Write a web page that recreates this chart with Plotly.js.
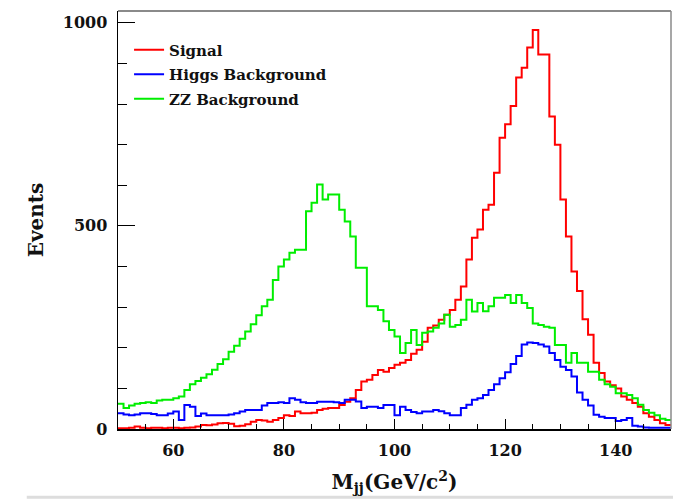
<!DOCTYPE html>
<html>
<head>
<meta charset="utf-8">
<script src="https://cdn.plot.ly/plotly-3.0.1.min.js"></script>
<style>
  html, body { margin: 0; padding: 0; background: #ffffff; }
  #chart { width: 673px; height: 499px; }
</style>
</head>
<body>
<div id="chart"></div>
<script>
// Histogram binning: 1 GeV bins from 50 to 150 GeV/c^2
const binStart = 50;
const binWidth = 1;

// Signal (events per bin, bins 50..149)
const signalCounts = [
  2, 2, 3, 6, 3, 2, 3, 3, 2, 3,
  3, 2, 3, 4, 6, 10, 9, 11, 14, 15,
  13, 7, 8, 12, 18, 22, 21, 18, 22, 27,
  34, 32, 43, 39, 39, 40, 47, 50, 52, 52,
  59, 67, 76, 96, 117, 121, 133, 145, 141, 150,
  158, 163, 170, 185, 195, 215, 249, 255, 269, 281,
  293, 318, 351, 417, 471, 491, 540, 552, 631, 717,
  750, 795, 865, 889, 939, 982, 922, 922, 769, 700,
  565, 474, 388, 340, 270, 232, 163, 138, 117, 108,
  100, 80, 72, 64, 55, 39, 30, 22, 14, 10
];

// Higgs Background
const higgsBkgCounts = [
  39, 36, 34, 36, 39, 39, 37, 34, 34, 38,
  43, 22, 59, 55, 32, 38, 34, 34, 34, 34,
  36, 39, 43, 47, 47, 47, 58, 64, 64, 66,
  64, 76, 72, 66, 64, 64, 67, 67, 67, 66,
  64, 72, 72, 68, 52, 55, 55, 52, 59, 59,
  34, 55, 47, 42, 39, 43, 43, 47, 44, 39,
  34, 34, 52, 60, 72, 76, 84, 96, 110, 125,
  140, 160, 180, 208, 213, 212, 208, 203, 187, 170,
  153, 145, 129, 90, 72, 58, 35, 30, 27, 27,
  20, 22, 27, 8, 6, 4, 3, 3, 3, 3
];

// ZZ Background
const zzBkgCounts = [
  62, 52, 58, 62, 64, 66, 64, 70, 72, 72,
  76, 80, 96, 110, 118, 126, 135, 146, 160, 172,
  190, 205, 222, 240, 258, 280, 302, 318, 367, 400,
  417, 434, 441, 441, 536, 557, 602, 565, 577, 577,
  540, 511, 474, 397, 397, 302, 302, 293, 265, 244,
  228, 187, 212, 244, 207, 237, 240, 249, 260, 281,
  252, 256, 269, 318, 289, 310, 290, 302, 323, 323,
  330, 310, 330, 310, 298, 260, 256, 252, 249, 207,
  207, 163, 187, 163, 163, 141, 141, 121, 110, 104,
  88, 88, 84, 76, 60, 47, 40, 34, 25, 22
];

const seriesNames = ["Signal", "Higgs Background", "ZZ Background"];
const seriesColors = ["#ff0000", "#0000ff", "#00ee00"];
const yTickValues = [0, 500, 1000];
const xTickValues = [60, 80, 100, 120, 140];

// Build step outlines (low edges + final upper edge)
function stepTrace(counts, name, color, group) {
  const x = counts.map((_, i) => binStart + i * binWidth);
  x.push(binStart + counts.length * binWidth);
  const y = counts.slice();
  y.push(counts[counts.length - 1]);
  return {
    type: "scatter",
    mode: "lines",
    x: x, y: y,
    name: name,
    legendgroup: group,
    line: { shape: "hv", color: color, width: 2 },
    hoverinfo: "skip"
  };
}

const data = [
  stepTrace(signalCounts, seriesNames[0], seriesColors[0], "g1"),
  stepTrace(higgsBkgCounts, seriesNames[1], seriesColors[1], "g2"),
  stepTrace(zzBkgCounts, seriesNames[2], seriesColors[2], "g3")
];

const serif = "DejaVu Serif, Liberation Serif, serif";

const layout = {
  width: 673,
  height: 499,
  margin: { l: 118, r: 2, t: 11, b: 70, pad: 0 },
  paper_bgcolor: "#ffffff",
  plot_bgcolor: "#ffffff",
  showlegend: true,
  legend: {
    x: 0.02, y: 0.946, xanchor: "left", yanchor: "top",
    bgcolor: "rgba(0,0,0,0)",
    borderwidth: 0,
    tracegroupgap: 2,
    itemwidth: 30,
    font: { family: serif, size: 15, color: "#111", weight: "bold" }
  },
  xaxis: {
    range: [50, 150],
    tickmode: "array",
    tickvals: xTickValues,
    ticktext: xTickValues.map(String),
    ticks: "inside",
    ticklen: 10,
    tickwidth: 1.2,
    tickcolor: "#000",
    minor: { dtick: 5, tick0: 0, ticks: "inside", ticklen: 5, tickwidth: 1, tickcolor: "#000" },
    showline: true, linecolor: "#000", linewidth: 1.5,
    showgrid: false, zeroline: false,
    ticklabelstandoff: 6,
    tickfont: { family: serif, size: 16, color: "#111", weight: "bold" },
    title: {
      text: "M<sub>jj</sub>(GeV/c<sup>2</sup>)",
      font: { family: serif, size: 20, color: "#111", weight: "bold" },
      standoff: 16
    },
    automargin: false
  },
  yaxis: {
    range: [0, 1029],
    tickmode: "array",
    tickvals: yTickValues,
    ticktext: yTickValues.map(String),
    ticks: "inside",
    ticklen: 17,
    tickwidth: 1.2,
    tickcolor: "#000",
    minor: { dtick: 100, tick0: 0, ticks: "inside", ticklen: 9, tickwidth: 1, tickcolor: "#000" },
    showline: true, linecolor: "#000", linewidth: 1.5,
    showgrid: false, zeroline: false,
    ticklabelstandoff: 6,
    tickfont: { family: serif, size: 16, color: "#111", weight: "bold" },
    title: {
      text: "Events",
      font: { family: serif, size: 20, color: "#111", weight: "bold" },
      standoff: 14
    },
    automargin: false
  },
  shapes: [
    { type: "line", xref: "paper", yref: "paper", x0: 0, x1: 1, y0: 1, y1: 1,
      line: { color: "#8a8a8a", width: 2 } },
    { type: "line", xref: "paper", yref: "paper", x0: 1, x1: 1, y0: 0, y1: 1,
      line: { color: "#8a8a8a", width: 1.5 } },
    { type: "line", xref: "paper", yref: "paper", x0: -0.165, x1: 1.01, y0: -0.163, y1: -0.163,
      line: { color: "#dddddd", width: 3 } }
  ]
};

Plotly.newPlot("chart", data, layout, { displayModeBar: false, staticPlot: true });
</script>
</body>
</html>
